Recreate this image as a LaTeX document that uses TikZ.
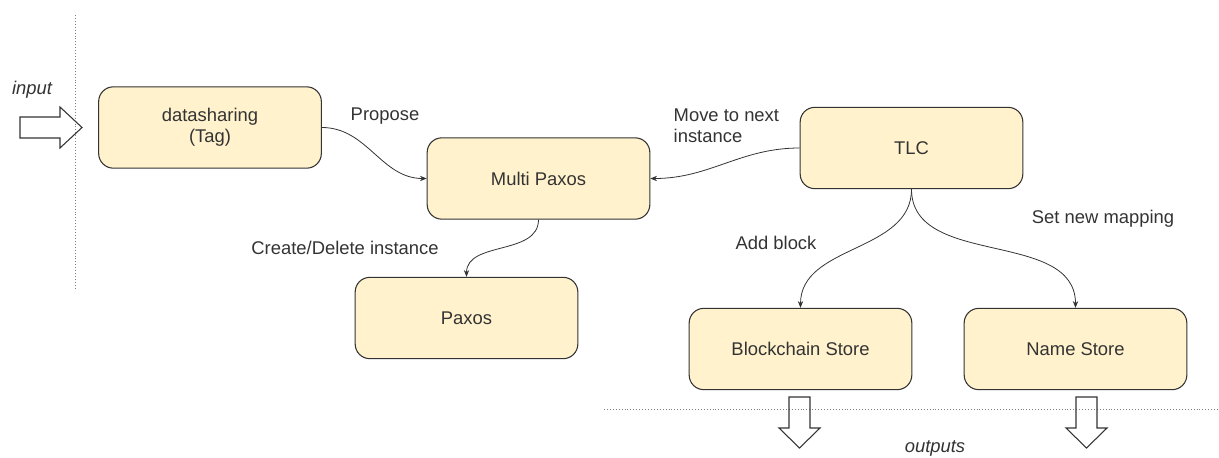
\documentclass[tikz,border=0pt]{standalone}
\usepackage{fontspec}
\setmainfont{Liberation Sans}
\usepackage{xcolor}
\usetikzlibrary{arrows.meta}

\definecolor{boxfill}{RGB}{255,242,204}
\definecolor{inkgray}{RGB}{51,51,51}

\begin{document}
\begin{tikzpicture}[x=0.75pt,y=0.75pt,yscale=-1,xscale=1,
  every node/.style={text=inkgray,font=\fontsize{13.8}{16}\selectfont},
  box/.style={draw=inkgray,fill=boxfill,line width=0.8pt,rounded corners=11pt,minimum width=167pt,minimum height=61pt,align=center},
  conn/.style={draw=inkgray,line width=0.6pt,-{Stealth[length=5pt,width=4pt]}},
  blockarrow/.style={draw=inkgray,line width=0.8pt},
  border/.style={draw=gray,line width=0.6pt,dash pattern=on 0.6pt off 1.6pt}]
\useasboundingbox (0,0) rectangle (1219,457);

%Borders of the system
\draw [border] (75,15) -- (75,290) ;
\draw [border] (604,409) -- (1219,409) ;

%Shape: Block arrows in and out
\draw [blockarrow] (20,117) -- (60,117) -- (60,107) -- (82,127.5) -- (60,148) -- (60,138) -- (20,138) -- cycle ;
\draw [blockarrow] (789,397) -- (810,397) -- (810,428) -- (820,428) -- (799.5,448) -- (779,428) -- (789,428) -- cycle ;
\draw [blockarrow] (1076,397) -- (1097,397) -- (1097,428) -- (1107,428) -- (1086.5,448) -- (1066,428) -- (1076,428) -- cycle ;

%Shape: Rounded boxes
\node [box] (datasharing) at (210,127.5) {datasharing\\(Tag)};
\node [box] (multipaxos) at (538.5,178.5) {Multi Paxos};
\node [box] (paxos) at (466.5,318) {Paxos};
\node [box] (tlc) at (911.5,148) {TLC};
\node [box] (blockchain) at (800.5,349) {Blockchain Store};
\node [box] (namestore) at (1075.5,349) {Name Store};

%Curved connectors (y axis is flipped, so 90 points down)
\draw [conn] (datasharing.east) to [out=0,in=180] (multipaxos.west) ;
\draw [conn] (tlc.west) to [out=180,in=0] (multipaxos.east) ;
\draw [conn] (multipaxos.south) to [out=90,in=-90] (paxos.north) ;
\draw [conn] (tlc.south) to [out=90,in=-90] (blockchain.north) ;
\draw [conn] (tlc.south) to [out=90,in=-90] (namestore.north) ;

% Text Node
\node (inlabel) at (32,90) {\itshape input};
% Text Node
\node (outlabel) at (935,448) {\itshape outputs};
% Text Node
\node (propose) at (385,116) {Propose};
% Text Node
\node (movenext) [anchor=west,align=left] at (669,126) {Move to next\\instance};
% Text Node
\node (createdel) at (345,248) {Create/Delete instance};
% Text Node
\node (addblock) at (776,243) {Add block};
% Text Node
\node (setmap) at (1103,219) {Set new mapping};

\end{tikzpicture}
\end{document}
